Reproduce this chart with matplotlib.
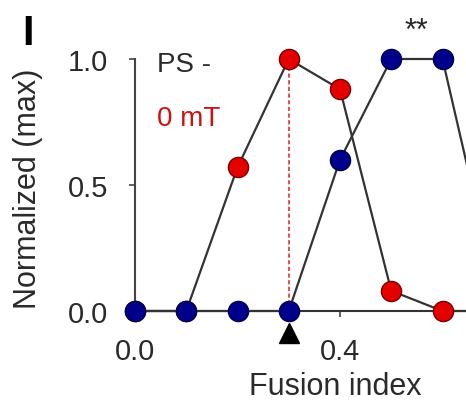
import matplotlib
matplotlib.use("Agg")
import matplotlib.pyplot as plt

plt.rcParams['font.family'] = ['Liberation Sans', 'DejaVu Sans']

fusion_index = [0.0, 0.1, 0.2, 0.3, 0.4, 0.5, 0.6, 0.7]
red_values = [0.0, 0.0, 0.57, 1.0, 0.88, 0.08, 0.0, 0.0]
blue_values = [0.0, 0.0, 0.0, 0.0, 0.6, 1.0, 1.0, 0.12]
marker_x = 0.3
xticks = [0.0, 0.4]
yticks = [0.0, 0.5, 1.0]

W, H = 466, 402
fig = plt.figure(figsize=(W / 100, H / 100), dpi=100)
ax = fig.add_axes([135 / W, (H - 312) / H, (W - 135) / W, 252 / H])

txt = '#2a2a2a'
line_c = '#333333'

# dashed red vertical marker line
ax.plot([marker_x, marker_x], [0, 1.0], color='#e0303a', lw=1.2,
        ls=(0, (2.5, 1.5)), zorder=2, clip_on=False)

ax.plot(fusion_index, red_values, color=line_c, lw=1.6, zorder=3,
        marker='o', ms=14.5, mfc='#e50000', mec='#7a0000', mew=1.0,
        clip_on=False)
ax.plot(fusion_index, blue_values, color=line_c, lw=1.6, zorder=4,
        marker='o', ms=14.5, mfc='#00008c', mec='#00004a', mew=1.0,
        clip_on=False)

ax.plot([marker_x], [-0.087], marker='^', ms=15, color='black',
        clip_on=False, zorder=5)

for s in ['top', 'right']:
    ax.spines[s].set_visible(False)
ax.spines['left'].set_bounds(0, 1.0)
ax.spines['left'].set_color('#444444')
ax.spines['bottom'].set_color('#333333')
ax.spines['left'].set_linewidth(1.5)
ax.spines['bottom'].set_linewidth(1.5)

ax.set_yticks(yticks)
ax.set_yticklabels([f"{v:.1f}" for v in yticks])
ax.set_xticks(xticks)
ax.set_xticklabels([f"{v:.1f}" for v in xticks])
ax.set_xlim(0, (W - 135) / 512.5)
ax.set_ylim(0, 1.0)
ax.tick_params(axis='y', length=4.5, width=1.2, pad=15, labelsize=21,
               colors='#444444', labelcolor=txt)
ax.tick_params(axis='x', length=4.5, width=1.2, pad=14, labelsize=21,
               colors='#444444', labelcolor=txt)

ax.set_xlabel('Fusion index', fontsize=22, color=txt)
ax.set_ylabel('Normalized (max)', fontsize=22, color=txt)
ax.xaxis.set_label_coords((335 - 135) / (W - 135), -(372 - 312) / 252)
ax.yaxis.set_label_coords(-(135 - 43) / (W - 135), (312 - 189) / 252)

ax.text(0.043, 0.98, 'PS -', fontsize=20, color=txt, va='center', ha='left')
ax.text(0.043, 0.766, '0 mT', fontsize=20, color='#d01010', va='center', ha='left')
ax.text(0.55, 1.11, '**', fontsize=22, color=txt, ha='center', va='center',
        clip_on=False)

fig.text(28 / W, 1 - 34 / H, 'I', fontsize=30, fontweight='bold',
         ha='center', va='center', color='black')

fig.savefig('out.png', dpi=100)
